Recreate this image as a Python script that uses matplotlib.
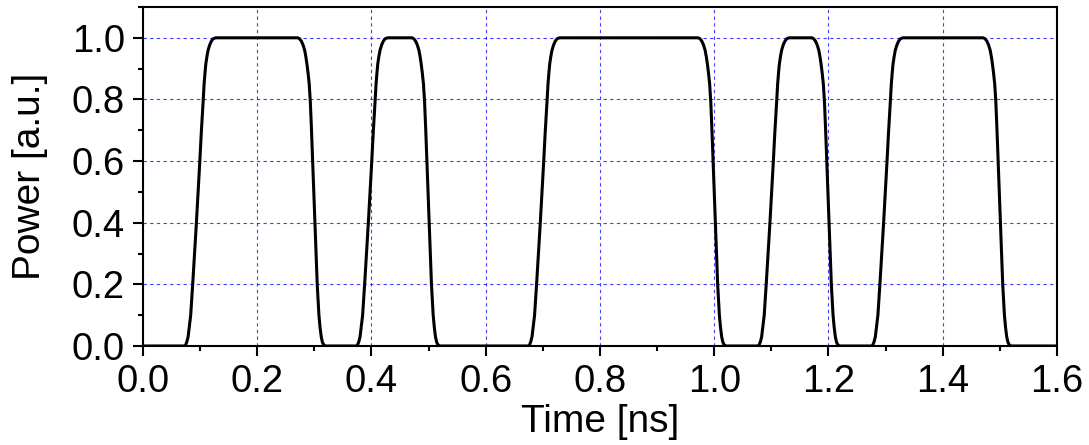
import matplotlib
matplotlib.use("Agg")
import matplotlib.pyplot as plt
from matplotlib.ticker import MultipleLocator

plt.rcParams['font.family'] = ['Liberation Sans', 'DejaVu Sans']

# waveform, one edge per line
time_ns = [0.000,
           0.073, 0.075, 0.077, 0.079, 0.081, 0.0835, 0.087, 0.0935, 0.0995, 0.102, 0.104, 0.1055, 0.107, 0.1085, 0.110, 0.112, 0.114, 0.117, 0.120, 0.123, 0.127,
           0.271, 0.274, 0.277, 0.280, 0.283, 0.285, 0.287, 0.289, 0.291, 0.293, 0.295, 0.297, 0.301, 0.305, 0.308, 0.310, 0.312, 0.314, 0.316, 0.319,
           0.374, 0.376, 0.378, 0.380, 0.382, 0.3845, 0.388, 0.3945, 0.4005, 0.403, 0.405, 0.4065, 0.408, 0.4095, 0.411, 0.413, 0.415, 0.418, 0.421, 0.424, 0.428,
           0.471, 0.474, 0.477, 0.480, 0.483, 0.485, 0.487, 0.489, 0.491, 0.493, 0.495, 0.497, 0.501, 0.505, 0.508, 0.510, 0.512, 0.514, 0.516, 0.519,
           0.675, 0.677, 0.679, 0.681, 0.683, 0.6855, 0.689, 0.6955, 0.7015, 0.704, 0.706, 0.7075, 0.709, 0.7105, 0.712, 0.714, 0.716, 0.719, 0.722, 0.725, 0.729,
           0.972, 0.975, 0.978, 0.981, 0.984, 0.986, 0.988, 0.990, 0.992, 0.994, 0.996, 0.998, 1.002, 1.006, 1.009, 1.011, 1.013, 1.015, 1.017, 1.020,
           1.077, 1.079, 1.081, 1.083, 1.085, 1.0875, 1.091, 1.0975, 1.1035, 1.106, 1.108, 1.1095, 1.111, 1.1125, 1.114, 1.116, 1.118, 1.121, 1.124, 1.127, 1.131,
           1.171, 1.174, 1.177, 1.180, 1.183, 1.185, 1.187, 1.189, 1.191, 1.193, 1.195, 1.197, 1.201, 1.205, 1.208, 1.210, 1.212, 1.214, 1.216, 1.219,
           1.276, 1.278, 1.280, 1.282, 1.284, 1.2865, 1.290, 1.2965, 1.3025, 1.305, 1.307, 1.3085, 1.310, 1.3115, 1.313, 1.315, 1.317, 1.320, 1.323, 1.326, 1.330,
           1.471, 1.474, 1.477, 1.480, 1.483, 1.485, 1.487, 1.489, 1.491, 1.493, 1.495, 1.497, 1.501, 1.505, 1.508, 1.510, 1.512, 1.514, 1.516, 1.519,
           1.600]

power = [0.0,
         0.0, 0.005, 0.015, 0.03, 0.06, 0.1, 0.2, 0.4, 0.6, 0.69, 0.75, 0.80, 0.85, 0.885, 0.915, 0.94, 0.96, 0.978, 0.99, 0.997, 1.0,
         1.0, 0.997, 0.99, 0.978, 0.96, 0.94, 0.915, 0.885, 0.85, 0.79, 0.70, 0.6, 0.4, 0.2, 0.1, 0.06, 0.03, 0.013, 0.005, 0.0,
         0.0, 0.005, 0.015, 0.03, 0.06, 0.1, 0.2, 0.4, 0.6, 0.69, 0.75, 0.80, 0.85, 0.885, 0.915, 0.94, 0.96, 0.978, 0.99, 0.997, 1.0,
         1.0, 0.997, 0.99, 0.978, 0.96, 0.94, 0.915, 0.885, 0.85, 0.79, 0.70, 0.6, 0.4, 0.2, 0.1, 0.06, 0.03, 0.013, 0.005, 0.0,
         0.0, 0.005, 0.015, 0.03, 0.06, 0.1, 0.2, 0.4, 0.6, 0.69, 0.75, 0.80, 0.85, 0.885, 0.915, 0.94, 0.96, 0.978, 0.99, 0.997, 1.0,
         1.0, 0.997, 0.99, 0.978, 0.96, 0.94, 0.915, 0.885, 0.85, 0.79, 0.70, 0.6, 0.4, 0.2, 0.1, 0.06, 0.03, 0.013, 0.005, 0.0,
         0.0, 0.005, 0.015, 0.03, 0.06, 0.1, 0.2, 0.4, 0.6, 0.69, 0.75, 0.80, 0.85, 0.885, 0.915, 0.94, 0.96, 0.978, 0.99, 0.997, 1.0,
         1.0, 0.997, 0.99, 0.978, 0.96, 0.94, 0.915, 0.885, 0.85, 0.79, 0.70, 0.6, 0.4, 0.2, 0.1, 0.06, 0.03, 0.013, 0.005, 0.0,
         0.0, 0.005, 0.015, 0.03, 0.06, 0.1, 0.2, 0.4, 0.6, 0.69, 0.75, 0.80, 0.85, 0.885, 0.915, 0.94, 0.96, 0.978, 0.99, 0.997, 1.0,
         1.0, 0.997, 0.99, 0.978, 0.96, 0.94, 0.915, 0.885, 0.85, 0.79, 0.70, 0.6, 0.4, 0.2, 0.1, 0.06, 0.03, 0.013, 0.005, 0.0,
         0.0]

fig, ax = plt.subplots(figsize=(10.89, 4.45), dpi=100)
fig.subplots_adjust(left=0.1313, right=0.9706, top=0.9843, bottom=0.2225)

ax.plot(time_ns, power, c="k", lw=2.2, solid_joinstyle="round", zorder=3)

ax.set_xlim(0, 1.6)
ax.set_ylim(0, 1.1)
ax.xaxis.set_major_locator(MultipleLocator(0.2))
ax.xaxis.set_minor_locator(MultipleLocator(0.1))
ax.yaxis.set_major_locator(MultipleLocator(0.2))
ax.yaxis.set_minor_locator(MultipleLocator(0.1))
ax.xaxis.set_major_formatter(plt.FormatStrFormatter("%.1f"))
ax.yaxis.set_major_formatter(plt.FormatStrFormatter("%.1f"))

ax.grid(True, which="major", color="#2020ff", ls=(0, (3, 3)), lw=0.8, alpha=0.85, zorder=1)
ax.set_axisbelow(True)

ax.tick_params(which="both", direction="out", top=False, right=False, width=1.5, labelsize=27.5)
ax.tick_params(axis="x", pad=6)
ax.tick_params(axis="y", pad=6)
ax.tick_params(which="major", length=7)
ax.tick_params(which="minor", length=3.5)
for s in ax.spines.values():
    s.set_linewidth(1.5)

ax.set_xlabel("Time [ns]", fontsize=28, labelpad=3)
ax.set_ylabel("Power [a.u.]", fontsize=28, labelpad=17)

fig.savefig("out.png", dpi=100)
